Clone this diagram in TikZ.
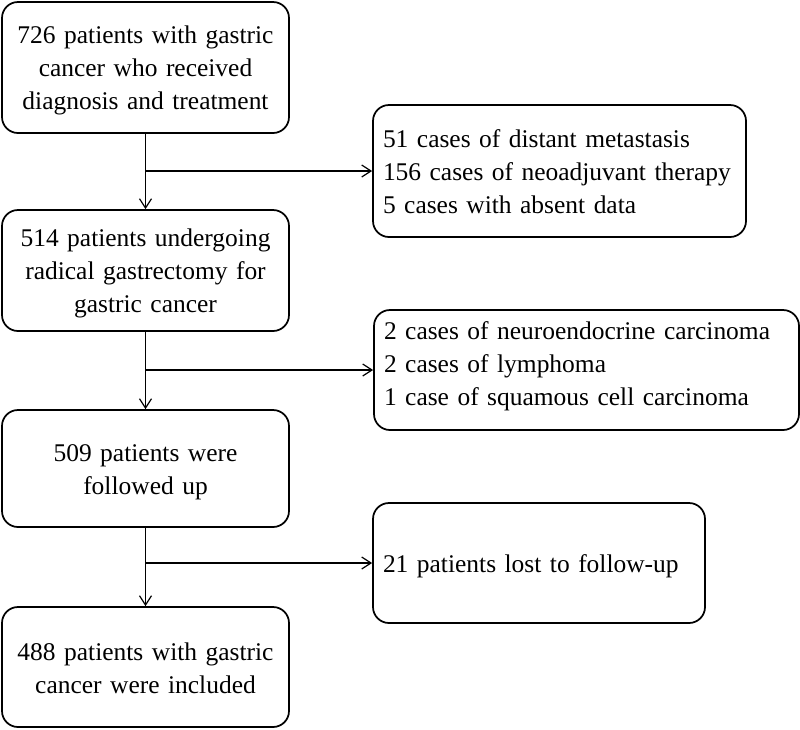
\documentclass[tikz,border=0pt]{standalone}
\usepackage{fontspec}
\setmainfont{Liberation Serif}
\usetikzlibrary{arrows.meta}
\tikzset{
  tup/.store in=\tupval, tup=18pt,
  tdn/.store in=\tdnval, tdn=3.75pt,
  box/.style={draw, line width=1.3pt, rounded corners=12pt,
    font=\fontsize{19.1}{24.75}\selectfont, inner ysep=0pt,
    execute at begin node={\rule{0pt}{\tupval}},
    execute at end node={\rule[-\tdnval]{0pt}{\tdnval}}},
  lbox/.style={box, align=center, text width=200pt, inner xsep=7.6pt, minimum width=215.25pt},
  rbox/.style={box, align=left, inner xsep=7.5pt},
  arr/.style={line width=0.9pt, -{Straight Barb[length=7pt,width=9pt,line width=0.9pt]}}
}
\begin{document}
\begin{tikzpicture}[x=0.75pt,y=-0.75pt]
\useasboundingbox (0,0) rectangle (800,729);
\node[lbox, minimum height=98.25pt] (b1) at (145.5,67.5) {726 patients with gastric\\cancer who received\\diagnosis and treatment};
\node[lbox, minimum height=90.75pt] (b2) at (145.5,270.5) {514 patients undergoing\\radical gastrectomy for\\gastric cancer};
\node[lbox, minimum height=87.75pt, tup=18.75pt] (b3) at (145.5,468.5) {509 patients were\\followed up};
\node[lbox, minimum height=90pt] (b4) at (145.5,667) {488 patients with gastric\\cancer were included};
\node[rbox, text width=264.75pt, minimum height=99pt] (r1) at (559.5,171) {51 cases of distant metastasis\\156 cases of neoadjuvant therapy\\5 cases with absent data};
\node[rbox, text width=303.75pt, minimum height=90pt, tup=13.5pt, tdn=10.5pt] (r2) at (586.5,370) {2 cases of neuroendocrine carcinoma\\2 cases of lymphoma\\1 case of squamous cell carcinoma};
\node[rbox, text width=234pt, minimum height=90pt] (r3) at (539,563) {21 patients lost to follow-up};
\draw[arr] (b1.south) -- (b2.north);
\draw[arr] (b2.south) -- (b3.north);
\draw[arr] (b3.south) -- (b4.north);
\coordinate (j1) at (b1.south |- r1.west);
\coordinate (j2) at (b2.south |- r2.west);
\coordinate (j3) at (b3.south |- r3.west);
\draw[arr] (j1) -- (r1.west);
\draw[arr] (j2) -- (r2.west);
\draw[arr] (j3) -- (r3.west);
\end{tikzpicture}
\end{document}
